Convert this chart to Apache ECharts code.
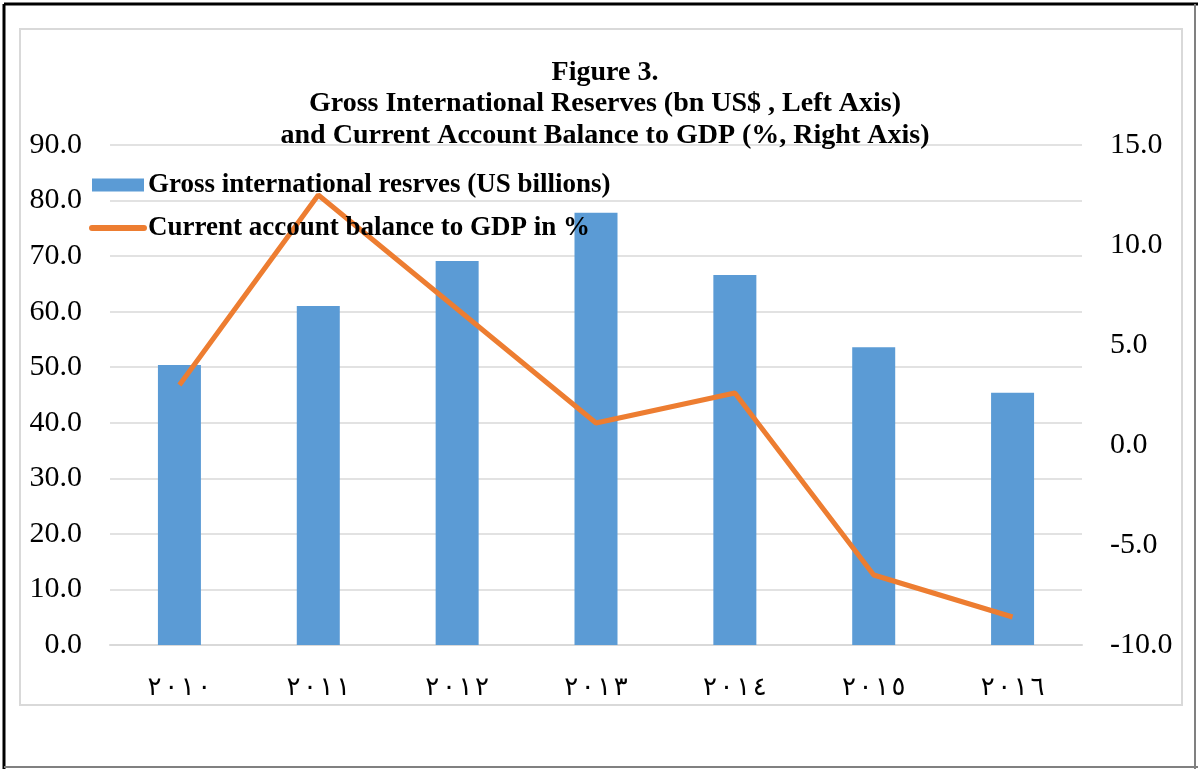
<!DOCTYPE html>
<html>
<head>
<meta charset="utf-8">
<script src="https://cdn.jsdelivr.net/npm/echarts@6/dist/echarts.min.js"></script>
<style>
  html, body { margin: 0; padding: 0; background: #fff; }
  #chart { width: 1198px; height: 769px; }
</style>
</head>
<body>
<div id="chart"></div>
<script>
const years = ['٢٠١٠', '٢٠١١', '٢٠١٢', '٢٠١٣', '٢٠١٤', '٢٠١٥', '٢٠١٦']
const reserves = [50.4, 61.0, 69.1, 77.8, 66.6, 53.6, 45.4]
const currentAccount = [3.0, 12.5, 6.8, 1.1, 2.6, -6.5, -8.6]

const serif = '"Liberation Serif", "Times New Roman", serif'
const grid = '#d9d9d9'

const chart = echarts.init(document.getElementById('chart'))

// keep arabic-indic digits left-to-right while spacing them out
const spaced = (s) => s.split('').join('\u200E\u200A\u200E')

chart.setOption({
  backgroundColor: '#fff',
  animation: false,
  title: {
    text: 'Figure 3.\nGross International Reserves (bn US$ , Left Axis)\nand Current Account Balance to GDP (%, Right Axis)',
    left: 600, top: 52, textAlign: 'center',
    textStyle: { fontFamily: serif, fontWeight: 'bold', fontSize: 28, lineHeight: 31.5, color: '#000' }
  },
  legend: {
    orient: 'vertical', left: 89, top: 170, padding: 0, itemGap: 13, itemWidth: 52, itemHeight: 13,
    textStyle: { fontFamily: serif, fontWeight: 'bold', fontSize: 27, lineHeight: 30, color: '#000', padding: [0, 0, 0, -1] },
    data: [
      { name: 'Gross international resrves (US billions)', icon: 'rect' },
      { name: 'Current account balance to GDP in %', itemStyle: { opacity: 0 }, lineStyle: { width: 6, cap: 'round' } }
    ]
  },
  grid: { left: 110, right: 116, top: 145, bottom: 124 },
  xAxis: {
    type: 'category', data: years,
    axisLine: { lineStyle: { color: grid, width: 2 } },
    axisTick: { show: false },
    axisLabel: { formatter: spaced, margin: 30, fontSize: 26, color: '#000', fontFamily: '"DejaVu Sans", serif' }
  },
  yAxis: [
    {
      type: 'value', min: 0, max: 90, interval: 10,
      axisLine: { show: false }, axisTick: { show: false },
      axisLabel: { formatter: (v) => v.toFixed(1), margin: 28, fontSize: 30, color: '#000', fontFamily: serif },
      splitLine: { lineStyle: { color: grid, width: 1.5 } }
    },
    {
      type: 'value', min: -10, max: 15, interval: 5,
      axisLine: { show: false }, axisTick: { show: false },
      axisLabel: { formatter: (v) => v.toFixed(1), margin: 28, fontSize: 30, color: '#000', fontFamily: serif },
      splitLine: { show: false }
    }
  ],
  series: [
    {
      name: 'Gross international resrves (US billions)', type: 'bar', data: reserves,
      barWidth: 43, itemStyle: { color: '#5b9bd5' }
    },
    {
      name: 'Current account balance to GDP in %', type: 'line', yAxisIndex: 1, data: currentAccount,
      symbol: 'none', lineStyle: { color: '#ed7d31', width: 5 }, itemStyle: { color: '#ed7d31' }
    }
  ],
  graphic: [
    { type: 'rect', shape: { x: 20, y: 29, width: 1162, height: 676 }, style: { fill: 'none', stroke: grid, lineWidth: 2 }, silent: true },
    { type: 'line', shape: { x1: 4, y1: 4, x2: 4, y2: 769 }, style: { stroke: '#000', lineWidth: 3 } },
    { type: 'line', shape: { x1: 4, y1: 4, x2: 1198, y2: 4 }, style: { stroke: '#000', lineWidth: 3 } },
    { type: 'line', shape: { x1: 1195, y1: 4, x2: 1195, y2: 769 }, style: { stroke: '#808080', lineWidth: 2 } },
    { type: 'line', shape: { x1: 4, y1: 767, x2: 1198, y2: 767 }, style: { stroke: '#808080', lineWidth: 2 } }
  ]
})
</script>
</body>
</html>
